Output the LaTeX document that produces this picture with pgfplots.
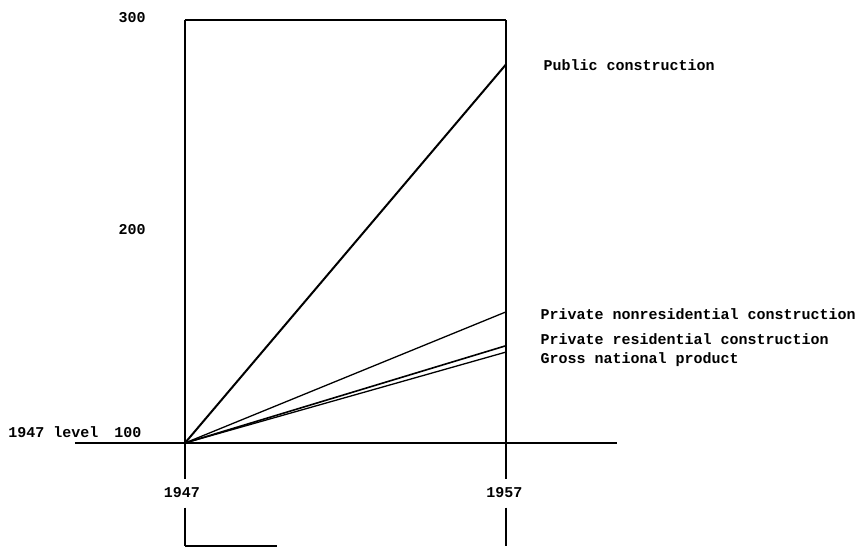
\documentclass[border=0pt]{standalone}
\usepackage{pgfplots}
\pgfplotsset{compat=1.18}
\usepackage{fontspec}
\setmainfont{Liberation Mono}
\begin{document}
\begin{tikzpicture}
% x = years after 1947
\begin{axis}[
  scale only axis, width=859pt, height=548pt,
  xmin=-5.763, xmax=21.0, ymin=50.35, ymax=309.5,
  hide axis, clip=false,
  every axis plot/.append style={black, no markers},
]
\path (rel axis cs:0,0) rectangle (rel axis cs:1,1);
% frame lines
\addplot[line width=1.5pt] coordinates {(0,300) (10,300)};
\addplot[line width=1.5pt] coordinates {(0,300) (0,83)};
\addplot[line width=1.5pt] coordinates {(0,69.5) (0,51.3)};
\addplot[line width=1.2pt] coordinates {(0,51.3) (2.87,51.3)};
\addplot[line width=1.5pt] coordinates {(10,300) (10,83)};
\addplot[line width=1.5pt] coordinates {(10,69.5) (10,51.3)};
\addplot[line width=1.3pt] coordinates {(-3.43,100) (13.46,100)};
% series: 1947 = 100
\addplot[line width=2pt] coordinates {(0,100) (10,279)};   % Public construction
\addplot[line width=1.3pt] coordinates {(0,100) (10,162)}; % Private nonresidential
\addplot[line width=1.6pt] coordinates {(0,100) (10,146)}; % Private residential
\addplot[line width=1.3pt] coordinates {(0,100) (10,143)}; % GNP
% labels
\begin{scope}[font=\fontsize{15}{17}\selectfont\bfseries]
\node at (axis cs:-1.65,301) {300};
\node at (axis cs:-1.65,201) {200};
\node[anchor=east] at (axis cs:-1.25,105) {1947 level\hspace{16pt}100};
\node at (axis cs:-0.1,76.4) {1947};
\node at (axis cs:9.95,76.4) {1957};
\node[anchor=west] at (axis cs:11.06,278.7) {Public construction};
\node[anchor=west] at (axis cs:10.97,160.9) {Private nonresidential construction};
\node[anchor=west] at (axis cs:10.97,149.2) {Private residential construction};
\node[anchor=west] at (axis cs:10.97,139.2) {Gross national product};
\end{scope}
\end{axis}
\end{tikzpicture}
\end{document}
